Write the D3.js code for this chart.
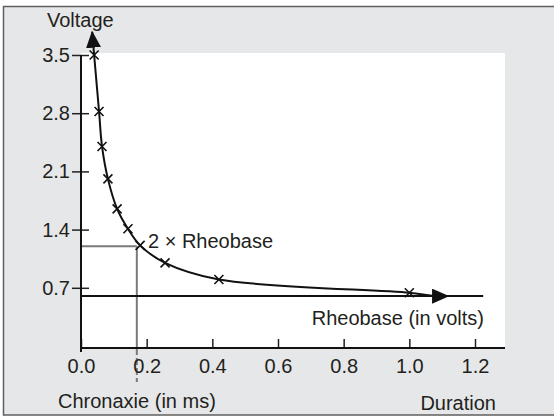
<!DOCTYPE html>
<html>
<head>
<meta charset="utf-8">
<script src="https://cdn.jsdelivr.net/npm/d3@7/dist/d3.min.js"></script>
<style>
  html, body { margin: 0; padding: 0; background: #fff; }
  svg text { font-family: "Liberation Sans", Arial, sans-serif; fill: #231f20; }
</style>
</head>
<body>
<div id="chart"></div>
<script>
/* Strength-duration curve */

const WIDTH = 554;
const HEIGHT = 417;

// data
const durations = [0.040, 0.055, 0.064, 0.082, 0.110, 0.143, 0.180, 0.256, 0.420, 1.0];
const voltages  = [3.50, 2.82, 2.40, 2.01, 1.65, 1.41, 1.21, 1.00, 0.80, 0.64];
const xTicks = [0.0, 0.2, 0.4, 0.6, 0.8, 1.0, 1.2];
const yTicks = [0.7, 1.4, 2.1, 2.8, 3.5];
const rheobase = 0.6;
const twiceRheobase = 1.2;
const chronaxie = 0.17;
// ends of the drawn curve (arrow tips)
const curveStart = [0.034, 3.78];
const curveEnd = [1.118, 0.60];

const svg = d3.select("#chart").append("svg")
    .attr("width", WIDTH).attr("height", HEIGHT);

// frame + plot background
svg.append("rect").attr("x", 3.5).attr("y", 6.5).attr("width", 600).attr("height", 408.5)
    .attr("fill", "#e6e7e8").attr("stroke", "#5f5f5f").attr("stroke-width", 1.5);
svg.append("rect").attr("x", 81).attr("y", 53).attr("width", 424).attr("height", 295)
    .attr("fill", "#fff");

const x = d3.scaleLinear().domain([0, 1.2]).range([81, 475]);
const y = d3.scaleLinear().domain([0, 3.5]).range([346, 55]);

const defs = svg.append("defs");
defs.append("marker").attr("id", "arrow")
    .attr("viewBox", "0 0 17 15").attr("refX", 16).attr("refY", 7.5)
    .attr("markerWidth", 17).attr("markerHeight", 15)
    .attr("markerUnits", "userSpaceOnUse")
    .attr("orient", "auto-start-reverse")
  .append("path").attr("d", "M0,0 L17,7.5 L0,15 Z").attr("fill", "#111");

// grey guide lines for 2 x rheobase / chronaxie
const grey = "#7a7a7a";
svg.append("line")
    .attr("x1", x(0)).attr("x2", x(chronaxie))
    .attr("y1", y(twiceRheobase)).attr("y2", y(twiceRheobase))
    .attr("stroke", grey).attr("stroke-width", 2);
svg.append("line")
    .attr("x1", x(chronaxie)).attr("x2", x(chronaxie))
    .attr("y1", y(twiceRheobase)).attr("y2", 348)
    .attr("stroke", grey).attr("stroke-width", 2);
svg.append("line")
    .attr("x1", x(chronaxie)).attr("x2", x(chronaxie))
    .attr("y1", 348).attr("y2", 382)
    .attr("stroke", grey).attr("stroke-width", 2)
    .attr("stroke-dasharray", "7,3");

// rheobase line
svg.append("line")
    .attr("x1", x(0)).attr("x2", x(1.225))
    .attr("y1", y(rheobase)).attr("y2", y(rheobase))
    .attr("stroke", "#111").attr("stroke-width", 2);

// axes
const yAxis = d3.axisLeft(y).tickValues(yTicks).tickFormat(d3.format(".1f"))
    .tickSize(9).tickPadding(2);
const gy = svg.append("g").attr("transform", "translate(" + x(0) + ",0)").call(yAxis);
gy.select(".domain").remove();
gy.selectAll(".tick line").attr("x2", -9).attr("x1", 8).attr("stroke", "#222").attr("stroke-width", 1.5);
gy.selectAll(".tick text").style("font-size", "20px").attr("fill", "#231f20");

const xAxis = d3.axisBottom(x).tickValues(xTicks).tickFormat(d3.format(".1f"))
    .tickSizeInner(-9).tickSizeOuter(0).tickPadding(11);
const gx = svg.append("g").attr("transform", "translate(0,348)").call(xAxis);
gx.select(".domain").remove();
gx.selectAll(".tick line").attr("stroke", "#222").attr("stroke-width", 1.5);
gx.selectAll(".tick text").style("font-size", "20px").attr("fill", "#231f20");

svg.append("line").attr("x1", x(0)).attr("x2", 505).attr("y1", 348).attr("y2", 348)
    .attr("stroke", "#111").attr("stroke-width", 2);
svg.append("line").attr("x1", x(0)).attr("x2", x(0)).attr("y1", y(3.5)).attr("y2", 352)
    .attr("stroke", "#111").attr("stroke-width", 2);

// curve
const pts = [curveStart].concat(durations.map((d, i) => [d, voltages[i]]), [[1.07, 0.605], curveEnd]);
const line = d3.line().x(d => x(d[0])).y(d => y(d[1])).curve(d3.curveCatmullRom.alpha(0.5));
svg.append("path").attr("d", line(pts))
    .attr("fill", "none").attr("stroke", "#111").attr("stroke-width", 2)
    .attr("marker-start", "url(#arrow)").attr("marker-end", "url(#arrow)");

// x marks
const s = 4.5;
const marks = svg.append("g").selectAll("g")
    .data(durations.map((d, i) => [d, voltages[i]]))
    .enter().append("g")
    .attr("transform", d => "translate(" + x(d[0]) + "," + y(d[1]) + ")");
marks.append("path").attr("d", `M${-s},${-s}L${s},${s}M${-s},${s}L${s},${-s}`)
    .attr("stroke", "#111").attr("stroke-width", 1.6);

// labels
const label = (t, px, py, anchor) => svg.append("text").text(t)
    .attr("x", px).attr("y", py).attr("text-anchor", anchor || "start")
    .style("font-size", "20px");
label("Voltage", 47, 27);
label("2 \u00d7 Rheobase", 148, 248);
label("Rheobase (in volts)", 484, 325, "end");
label("Chronaxie (in ms)", 58, 408);
label("Duration", 496, 410, "end");
</script>
</body>
</html>
